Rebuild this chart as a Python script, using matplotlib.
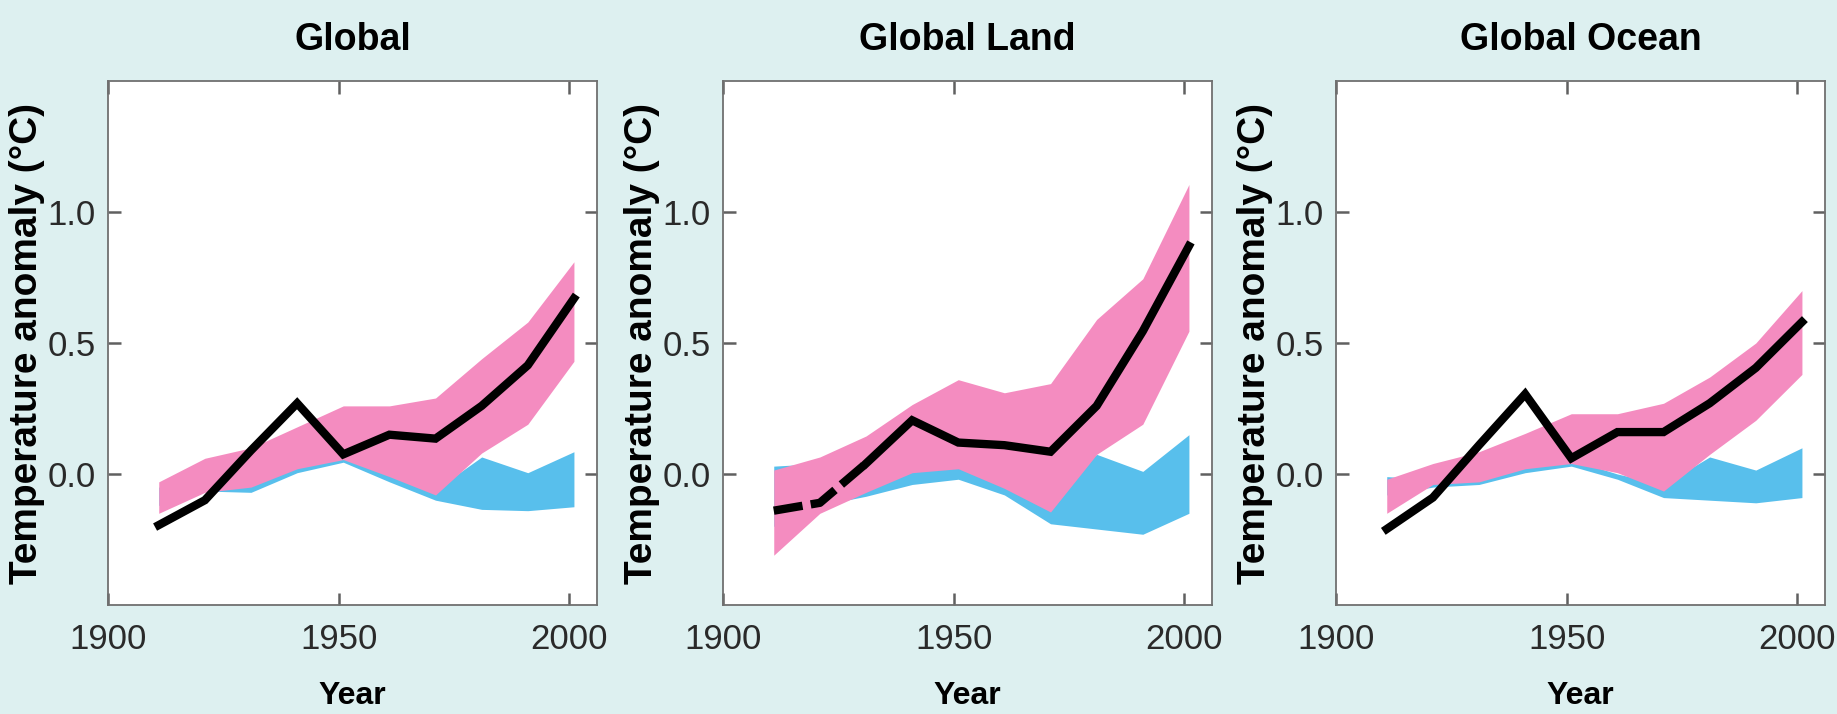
import matplotlib
matplotlib.use("Agg")
import matplotlib.pyplot as plt
from matplotlib import font_manager

# decade centres
years = [1911, 1921, 1931, 1941, 1951, 1961, 1971, 1981, 1991, 2001]

# Global
glob_obs = [-0.195, -0.10, 0.09, 0.27, 0.075, 0.15, 0.135, 0.26, 0.415, 0.67]
glob_all_hi = [-0.03, 0.06, 0.10, 0.18, 0.26, 0.26, 0.29, 0.44, 0.58, 0.81]
glob_all_lo = [-0.15, -0.07, -0.05, 0.02, 0.055, -0.01, -0.08, 0.08, 0.19, 0.43]
glob_nat_hi = [-0.05, -0.04, -0.02, 0.03, 0.06, 0.0, -0.06, 0.065, 0.005, 0.085]
glob_nat_lo = [-0.12, -0.065, -0.07, 0.005, 0.045, -0.03, -0.10, -0.135, -0.14, -0.125]

# Global Land
land_obs = [-0.14, -0.11, 0.04, 0.205, 0.12, 0.11, 0.085, 0.26, 0.545, 0.87]
land_all_hi = [0.015, 0.065, 0.145, 0.265, 0.36, 0.31, 0.345, 0.59, 0.745, 1.105]
land_all_lo = [-0.31, -0.15, -0.07, 0.005, 0.02, -0.055, -0.145, 0.075, 0.19, 0.545]
land_nat_hi = [0.03, 0.04, 0.0, 0.03, 0.04, -0.02, -0.05, 0.075, 0.01, 0.15]
land_nat_lo = [-0.2, -0.12, -0.085, -0.04, -0.02, -0.08, -0.19, -0.21, -0.23, -0.15]

# Global Ocean
ocean_obs = [-0.21, -0.09, 0.11, 0.305, 0.06, 0.16, 0.16, 0.27, 0.405, 0.58]
ocean_all_hi = [-0.02, 0.04, 0.085, 0.155, 0.23, 0.23, 0.27, 0.37, 0.50, 0.70]
ocean_all_lo = [-0.15, -0.04, -0.03, 0.02, 0.04, 0.005, -0.065, 0.075, 0.205, 0.38]
ocean_nat_hi = [-0.01, -0.02, -0.01, 0.03, 0.055, 0.0, -0.04, 0.065, 0.015, 0.10]
ocean_nat_lo = [-0.08, -0.05, -0.04, 0.005, 0.03, -0.02, -0.09, -0.10, -0.11, -0.09]

titles = ["Global", "Global Land", "Global Ocean"]
obs = [glob_obs, land_obs, ocean_obs]
all_hi = [glob_all_hi, land_all_hi, ocean_all_hi]
all_lo = [glob_all_lo, land_all_lo, ocean_all_lo]
nat_hi = [glob_nat_hi, land_nat_hi, ocean_nat_hi]
nat_lo = [glob_nat_lo, land_nat_lo, ocean_nat_lo]
n_dashed = [0, 2, 0]  # land series starts with a dashed stretch

xticks = [1900, 1950, 2000]
yticks = [0.0, 0.5, 1.0]

names = {f.name for f in font_manager.fontManager.ttflist}
narrow = "Liberation Sans Narrow" if "Liberation Sans Narrow" in names else "Liberation Sans"
plt.rcParams['font.family'] = ['Liberation Sans', 'DejaVu Sans']

bg = '#ddf0f0'
pink = '#f48cc0'
blue = '#58bfec'

fig = plt.figure(figsize=(18.37, 7.14), dpi=100, facecolor=bg)
lefts = [108, 723, 1336]

for i in range(3):
    ax = fig.add_axes([lefts[i] / 1837, 109 / 714, 489 / 1837, 524 / 714])
    ax.fill_between(years, nat_lo[i], nat_hi[i], color=blue, lw=0)
    ax.fill_between(years, all_lo[i], all_hi[i], color=pink, lw=0)
    k = n_dashed[i]
    if k:
        ax.plot(years[:k + 1], obs[i][:k + 1], color='black', lw=6,
                dashes=(3.5, 1.0), dash_capstyle='butt')
    ax.plot(years[k:], obs[i][k:], color='black', lw=6, solid_joinstyle='miter')

    ax.set_xlim(1900, 2006)
    ax.set_ylim(-0.5, 1.5)
    ax.set_xticks(xticks)
    ax.set_yticks(yticks)
    ax.set_xticklabels([str(x) for x in xticks], fontfamily=narrow, fontsize=25, color='#2a2a2a')
    ax.set_yticklabels(['%.1f' % y for y in yticks], fontfamily=narrow, fontsize=25, color='#2a2a2a')
    ax.tick_params(direction='in', length=9, width=1.8, color='#606060',
                   top=True, right=True)
    ax.tick_params(axis='x', pad=13)
    ax.tick_params(axis='y', pad=9)
    for s in ax.spines.values():
        s.set_color('#707070')
        s.set_linewidth(1.3)

    ax.set_title(titles[i], fontsize=27, fontweight='bold', pad=22)
    ax.set_xlabel('Year', fontsize=23, fontweight='bold')
    ax.xaxis.set_label_coords(0.5, -0.145)
    ax.set_ylabel('Temperature anomaly (°C)', fontsize=28, fontweight='bold', va='center')
    ax.yaxis.set_label_coords(-0.165, 0.5)

fig.savefig('out.png', dpi=100, facecolor=bg)
